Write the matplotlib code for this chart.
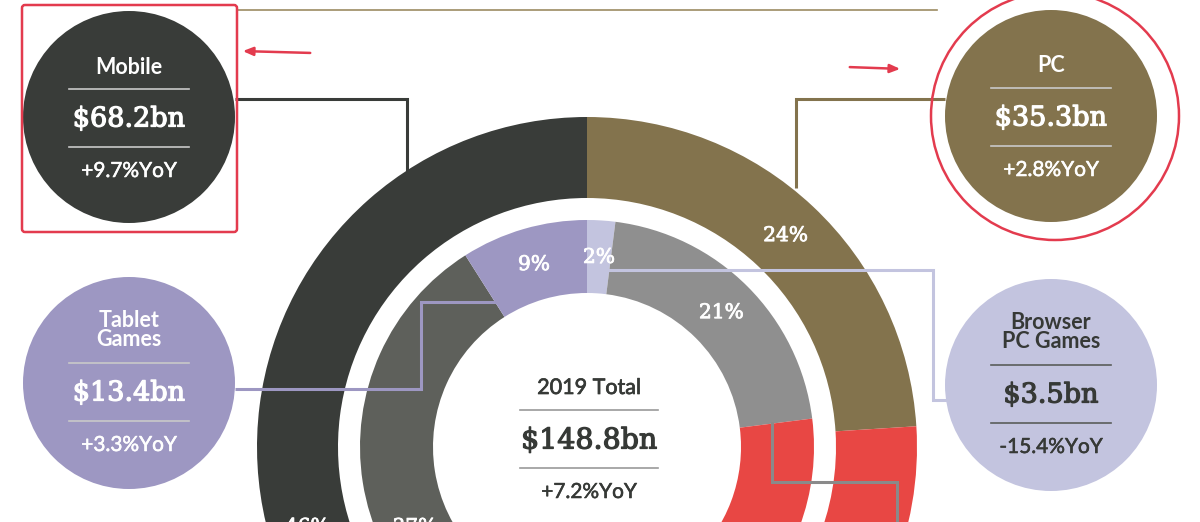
import numpy as np
import matplotlib
matplotlib.use("Agg")
import matplotlib.pyplot as plt
import matplotlib.patheffects as pe
from matplotlib.patches import Circle, FancyBboxPatch

# market split, % of the 2019 total ($148.8bn)
total = 148.8
total_yoy = "+7.2%YoY"
outer_names = ["PC", "Console", "Mobile"]
outer_share = [24, 30, 46]
outer_colors = ["#83734d", "#e84744", "#393c39"]
outer_labels = ["24%", "", "46%"]

inner_names = ["Browser PC Games", "Boxed/Downloaded PC", "Console", "Smartphone", "Tablet"]
inner_share = [2, 21, 31, 37, 9]
inner_colors = ["#c3c4df", "#8f8f8f", "#e84744", "#5e605b", "#9d97c2"]
inner_labels = ["2%", "21%", "", "37%", "9%"]

# callout bubbles
bubble_titles = ["Mobile", "PC", "Tablet\nGames", "Browser\nPC Games"]
bubble_values = ["$68.2bn", "$35.3bn", "$13.4bn", "$3.5bn"]
bubble_yoy = ["+9.7%YoY", "+2.8%YoY", "+3.3%YoY", "-15.4%YoY"]
bubble_colors = ["#393c39", "#83734d", "#9d97c2", "#c3c4df"]
bubble_text = ["white", "white", "white", "#363936"]

H = 522
fig = plt.figure(figsize=(12, 5.22), dpi=100)
ax = fig.add_axes([0, 0, 1, 1])

cx, cy = 587, H - 447
R_out, w_out = 330, 81
R_in, w_in = 227, 73

ax.pie(outer_share, colors=outer_colors, startangle=90, counterclock=False,
       radius=R_out, center=(cx, cy), wedgeprops=dict(width=w_out, linewidth=0))
ax.pie(inner_share, colors=inner_colors, startangle=90, counterclock=False,
       radius=R_in, center=(cx, cy), wedgeprops=dict(width=w_in, linewidth=0))

serif = "DejaVu Serif"
sans = "Lato"


def heavy(color, w=0.7):
    return [pe.withStroke(linewidth=w, foreground=color)]


def ring_label(txt, angle, r, size=14.5):
    a = np.radians(angle)
    ax.text(cx + r * np.cos(a), cy + r * np.sin(a), txt, color="white",
            family=serif, fontsize=size, ha="center", va="center",
            path_effects=heavy("white", 0.6))


# labels at segment middles (clockwise from 12 o'clock)
cum = np.cumsum([0] + outer_share[:-1])
for lab, c, v in zip(outer_labels, cum, outer_share):
    if lab and lab != "46%":
        ring_label(lab, 90 - (c + v / 2) * 3.6, 290)
cum = np.cumsum([0] + inner_share[:-1])
for lab, c, v in zip(inner_labels, cum, inner_share):
    if lab and lab != "37%":
        ring_label(lab, 90 - (c + v / 2) * 3.6, 190)
# these two sit low in the ring, mostly cut by the frame
ring_label("46%", 196, 291)
ring_label("37%", 205, 190)

# connector lines
def path(xs, ys, color):
    ax.plot(xs, [H - y for y in ys], color=color, lw=2.2, solid_joinstyle="miter",
            solid_capstyle="butt", zorder=3)

path([235, 407, 407], [99, 99, 175], "#393c39")
path([945, 796, 796], [99, 99, 188], "#83734d")
path([235, 421, 421, 500], [389, 389, 302, 302], "#9d97c2")
path([608, 933, 933, 948], [270, 270, 400, 400], "#c3c4df")
path([772, 772, 897, 897], [422, 482, 482, 530], "#8a8a8a")

# top rule
ax.plot([237, 937], [H - 10, H - 10], color="#9c8b62", lw=1.2)

# bubbles
centers = [(129, 117), (1051, 116), (129, 383), (1051, 385)]
for i, (bx, by) in enumerate(centers):
    y0 = H - by
    ax.add_patch(Circle((bx, y0), 106, color=bubble_colors[i], lw=0, zorder=4))
    tc = bubble_text[i]
    lc = "#c9c9c9" if tc == "white" else "#5a5d5a"
    two = "\n" in bubble_titles[i]
    title_y = y0 + 50 if not two else y0 + 53
    ax.text(bx, title_y, bubble_titles[i], color=tc, family=sans, weight="bold",
            fontsize=15.5, ha="center", va="center", linespacing=0.85, zorder=5)
    sep1 = y0 + 28 if not two else y0 + 20
    sep2 = y0 - 30 if not two else y0 - 38
    for s in (sep1, sep2):
        ax.plot([bx - 60, bx + 60], [s, s], color=lc, lw=1.2, zorder=5)
    ax.text(bx, (sep1 + sep2) / 2 - 1, bubble_values[i], color=tc, family=serif,
            fontsize=19.5, ha="center", va="center", zorder=5,
            path_effects=heavy(tc, 0.9))
    ax.text(bx, sep2 - 24, bubble_yoy[i], color=tc, family=sans,
            fontsize=15, ha="center", va="center", zorder=5,
            path_effects=heavy(tc, 0.4))

# centre total
tc = "#363936"
ax.text(589, H - 388, "2019 Total", color=tc, family=sans, fontsize=15.5,
        ha="center", va="center", path_effects=heavy(tc, 0.5))
for s in (410, 468):
    ax.plot([520, 658], [H - s, H - s], color="#9a9a9a", lw=1.2)
ax.text(589, H - 441, f"${total}bn", color=tc, family=serif, fontsize=20.5,
        ha="center", va="center", path_effects=heavy(tc, 0.9))
ax.text(589, H - 492, total_yoy, color=tc, family=sans, fontsize=15,
        ha="center", va="center", path_effects=heavy(tc, 0.4))

# red highlight marks
red = "#e33b4e"
ax.add_patch(FancyBboxPatch((22, H - 232), 215, 227, boxstyle="round,pad=0,rounding_size=3",
                            fill=False, ec=red, lw=1.8, zorder=6))
ax.add_patch(Circle((1055, H - 116), 124, fill=False, ec=red, lw=1.8, zorder=6))
ax.annotate("", xy=(240, H - 51), xytext=(313, H - 53),
            arrowprops=dict(arrowstyle="-|>,head_length=0.6,head_width=0.25", color=red, lw=1.8))
ax.annotate("", xy=(903, H - 69), xytext=(847, H - 67),
            arrowprops=dict(arrowstyle="-|>,head_length=0.6,head_width=0.25", color=red, lw=1.8))

ax.set_xlim(0, 1200)
ax.set_ylim(0, H)
ax.set_aspect("auto")
ax.axis("off")
fig.savefig("out.png", dpi=100, facecolor="white")
